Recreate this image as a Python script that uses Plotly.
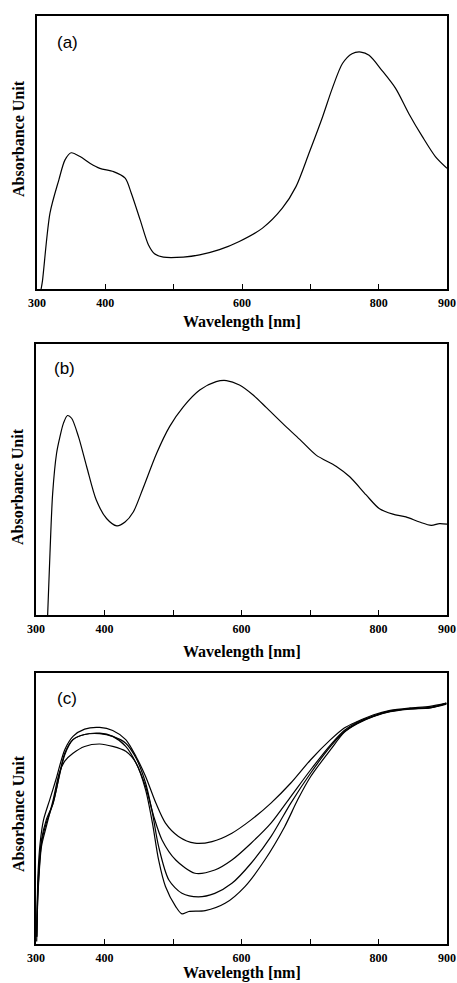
import plotly.graph_objects as go

W, H = 457, 983

# Panel (a)
a_wl = [306, 308, 319, 332, 341, 350, 363, 378, 392, 412, 429, 438, 451, 463, 472, 485,
        514, 538, 567, 596, 630, 659, 679, 698, 718, 732, 747, 761, 774, 786, 805, 825,
        844, 864, 883, 900]
a_abs = [0.0, 0.03, 0.278, 0.40, 0.473, 0.499, 0.485, 0.46, 0.442, 0.43, 0.406, 0.351,
         0.253, 0.162, 0.129, 0.117, 0.117, 0.125, 0.144, 0.174, 0.223, 0.296, 0.375,
         0.497, 0.631, 0.734, 0.826, 0.862, 0.868, 0.856, 0.80, 0.734, 0.643, 0.558,
         0.485, 0.442]

# Panel (b)
b_wl = [317, 320.4, 324.3, 330, 335, 340, 346, 352, 362, 374, 388, 403, 418, 430, 442,
        456, 476, 495, 515, 539, 563, 578, 597, 617, 636, 660, 685, 709, 738, 758, 782,
        801, 821, 840, 860, 877, 889, 900]
b_abs = [0.0, 0.227, 0.448, 0.596, 0.658, 0.707, 0.736, 0.726, 0.658, 0.547, 0.424,
         0.356, 0.329, 0.343, 0.38, 0.466, 0.596, 0.695, 0.768, 0.830, 0.861, 0.865,
         0.849, 0.812, 0.766, 0.707, 0.648, 0.590, 0.549, 0.510, 0.443, 0.393, 0.372,
         0.362, 0.343, 0.331, 0.337, 0.335]

# Panel (c) - four spectra
c1_wl = [301, 303, 306, 311, 320, 329, 342, 354, 371, 393, 412, 431, 446, 460, 475, 489,
         508, 532, 557, 586, 614, 643, 672, 701, 730, 750, 769, 793, 817, 846, 875, 899]
c1_abs = [0.027, 0.261, 0.372, 0.458, 0.532, 0.606, 0.717, 0.766, 0.793, 0.799, 0.788,
          0.754, 0.692, 0.618, 0.520, 0.446, 0.397, 0.372, 0.378, 0.409, 0.458, 0.520,
          0.594, 0.680, 0.754, 0.797, 0.821, 0.846, 0.862, 0.871, 0.877, 0.889]

c2_wl = [301, 303, 308, 315, 325, 342, 354, 371, 393, 412, 431, 446, 460, 472, 484, 504,
         532, 561, 586, 614, 643, 672, 701, 730, 750, 769, 793, 817, 846, 875, 899]
c2_abs = [0.027, 0.224, 0.384, 0.458, 0.520, 0.704, 0.754, 0.773, 0.778, 0.766, 0.729,
          0.668, 0.581, 0.470, 0.384, 0.310, 0.261, 0.273, 0.310, 0.372, 0.446, 0.544,
          0.643, 0.735, 0.788, 0.818, 0.842, 0.860, 0.868, 0.873, 0.887]

c3_wl = [301, 303, 308, 315, 325, 342, 354, 371, 393, 412, 431, 446, 460, 470, 479, 494,
         513, 537, 561, 586, 614, 643, 672, 701, 730, 750, 769, 793, 817, 846, 875, 899]
c3_abs = [0.027, 0.200, 0.372, 0.446, 0.520, 0.698, 0.754, 0.773, 0.776, 0.766, 0.741,
          0.686, 0.594, 0.483, 0.360, 0.236, 0.187, 0.174, 0.187, 0.224, 0.298, 0.396,
          0.520, 0.631, 0.729, 0.783, 0.815, 0.841, 0.858, 0.868, 0.871, 0.885]

c4_wl = [301, 303, 308, 315, 325, 334, 342, 354, 371, 393, 412, 431, 446, 460, 470, 479,
         489, 504, 513, 523, 547, 576, 605, 634, 663, 682, 701, 730, 750, 769, 793, 817,
         846, 875, 899]
c4_abs = [0.009, 0.187, 0.360, 0.433, 0.532, 0.631, 0.675, 0.704, 0.729, 0.738, 0.729,
          0.711, 0.668, 0.569, 0.446, 0.310, 0.212, 0.138, 0.111, 0.120, 0.123, 0.150,
          0.212, 0.310, 0.433, 0.532, 0.618, 0.717, 0.781, 0.813, 0.840, 0.857, 0.867,
          0.871, 0.889]

tick_vals = [300, 400, 500, 600, 700, 800, 900]
tick_text = ["300", "400", "", "600", "", "800", "900"]
panel_labels = ["(a)", "(b)", "(c)"]
x_title = "Wavelength [nm]"
y_title = "Absorbance Unit"

# layout boxes in pixels: (left, right, top, bottom)
boxes = [(37, 447, 16, 289), (36, 447, 344, 615), (36, 447, 673, 944)]
xtitle_centers = [322, 652, 973]
ytitle_centers = [139, 487, 814]
label_pos = [(67, 43), (64, 368), (67, 698)]

fig = go.Figure()
line = dict(color="black", width=1.2, shape="spline", smoothing=0.8)
fig.add_trace(go.Scatter(x=a_wl, y=a_abs, mode="lines", line=line, xaxis="x", yaxis="y"))
fig.add_trace(go.Scatter(x=b_wl, y=b_abs, mode="lines", line=line, xaxis="x2", yaxis="y2"))
for xs, ys in [(c1_wl, c1_abs), (c2_wl, c2_abs), (c3_wl, c3_abs), (c4_wl, c4_abs)]:
    fig.add_trace(go.Scatter(x=xs, y=ys, mode="lines", line=line, xaxis="x3", yaxis="y3"))

serif_bold = dict(family="Liberation Serif", color="black", weight="bold")
annotations = []
layout = {}
for i, (l, r, t, b) in enumerate(boxes):
    sfx = "" if i == 0 else str(i + 1)
    layout["xaxis" + sfx] = dict(
        domain=[l / W, r / W], range=[300, 900], anchor="y" + sfx, automargin=False,
        showline=True, mirror=True, linecolor="black", linewidth=1.5,
        ticks="inside", ticklen=5, tickwidth=1, tickcolor="black",
        tickvals=tick_vals, ticktext=tick_text, showgrid=False, zeroline=False,
        tickfont=dict(size=12, **serif_bold), ticklabelstandoff=2,
        ticklabeloverflow="allow",
    )
    layout["yaxis" + sfx] = dict(
        domain=[1 - b / H, 1 - t / H], range=[0, 1], anchor="x" + sfx, automargin=False,
        showline=True, mirror=True, linecolor="black", linewidth=1.5,
        showticklabels=False, ticks="", showgrid=False, zeroline=False,
    )
    annotations.append(dict(
        text=x_title, x=(l + r) / 2 / W, y=1 - xtitle_centers[i] / H,
        xref="paper", yref="paper",
        showarrow=False, xanchor="center", yanchor="middle",
        font=dict(size=16, **serif_bold)))
    annotations.append(dict(
        text=y_title, x=18 / W, y=1 - ytitle_centers[i] / H, xref="paper", yref="paper",
        showarrow=False, xanchor="center", yanchor="middle", textangle=-90,
        font=dict(size=16, **serif_bold)))
    annotations.append(dict(
        text=panel_labels[i], x=label_pos[i][0] / W, y=1 - label_pos[i][1] / H,
        xref="paper", yref="paper", showarrow=False, xanchor="center", yanchor="middle",
        font=dict(size=17, family="Liberation Sans", color="black")))

fig.update_layout(
    width=W, height=H, margin=dict(l=0, r=0, t=0, b=0, autoexpand=False),
    paper_bgcolor="white", plot_bgcolor="white", showlegend=False,
    annotations=annotations, **layout)

fig.write_html(
    "out.html",
    config={"displayModeBar": False},
    post_script="document.body.style.margin='0';document.body.style.overflow='hidden';",
)
